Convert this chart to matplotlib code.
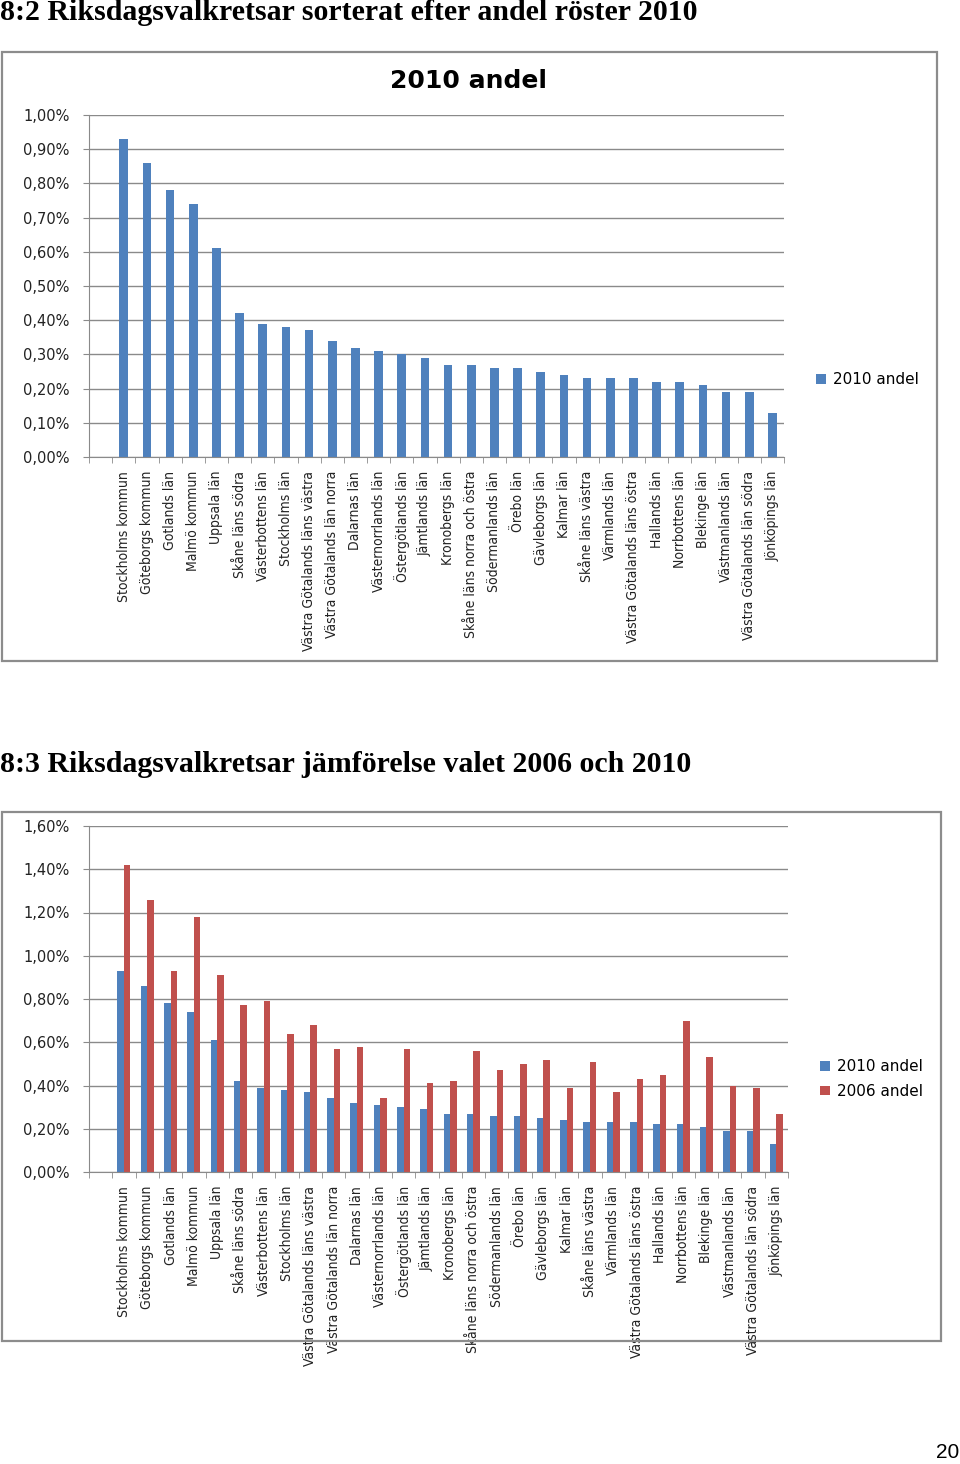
import matplotlib
matplotlib.use("Agg")
from matplotlib import pyplot as plt
from matplotlib import font_manager
from matplotlib.font_manager import FontProperties
from matplotlib.textpath import TextPath
from matplotlib.patches import Rectangle
import numpy as np

# valkretsar, sorted by 2010 share
kretsar = [
    "Stockholms kommun", "Göteborgs kommun", "Gotlands län", "Malmö kommun",
    "Uppsala län", "Skåne läns södra", "Västerbottens län", "Stockholms län",
    "Västra Götalands läns västra", "Västra Götalands län norra", "Dalarnas län",
    "Västernorrlands län", "Östergötlands län", "Jämtlands län", "Kronobergs län",
    "Skåne läns norra och östra", "Södermanlands län", "Örebo län",
    "Gävleborgs län", "Kalmar län", "Skåne läns västra", "Värmlands län",
    "Västra Götalands läns östra", "Hallands län", "Norrbottens län",
    "Blekinge län", "Västmanlands län", "Västra Götalands län södra",
    "Jönköpings län",
]
andel_2010 = [0.93, 0.86, 0.78, 0.74, 0.61, 0.42, 0.39, 0.38, 0.37, 0.34, 0.32,
              0.31, 0.30, 0.29, 0.27, 0.27, 0.26, 0.26, 0.25, 0.24, 0.23, 0.23,
              0.23, 0.22, 0.22, 0.21, 0.19, 0.19, 0.13]
andel_2006 = [1.42, 1.26, 0.93, 1.18, 0.91, 0.77, 0.79, 0.64, 0.68, 0.57, 0.58,
              0.34, 0.57, 0.41, 0.42, 0.56, 0.47, 0.50, 0.52, 0.39, 0.51, 0.37,
              0.43, 0.45, 0.70, 0.53, 0.40, 0.39, 0.27]

BLUE = "#4F81BD"
RED = "#C0504D"
GRID = "#8a8a8a"


def narrow_font():
    # look for a condensed sans for the Calibri-like category labels
    prefs = ["Liberation Sans Narrow", "DejaVu Sans", "Noto Sans", "Open Sans", "Roboto"]
    found = [f for f in font_manager.fontManager.ttflist
             if f.stretch in ("condensed", "semi-condensed", "extra-condensed")
             and f.style == "normal" and f.weight in (400, "normal", "regular")]
    for p in prefs:
        for f in found:
            if f.name == p:
                return FontProperties(fname=f.fname)
    return FontProperties(family="Liberation Sans")


label_fp = narrow_font()
# size so that "Stockholms kommun" is ~129 px long, as in the reference
w_em = TextPath((0, 0), "Stockholms kommun", size=1, prop=label_fp).get_extents().width
label_fp.set_size(min(13, 129 * 72 / (100 * w_em)))

W, H = 960, 1464
fig = plt.figure(figsize=(W / 100, H / 100), dpi=100)


def fx(x):
    return x / W


def fy(y):
    return 1 - y / H


def frame(x0, y0, x1, y1):
    fig.add_artist(Rectangle((fx(x0), fy(y1)), (x1 - x0) / W, (y1 - y0) / H,
                             transform=fig.transFigure, fill=False,
                             edgecolor="#8c8c8c", lw=1.6))


def pct(v):
    return f"{v:.2f}%".replace(".", ",")


def style_axes(ax, ymax, step):
    n = len(kretsar)
    ax.set_xlim(-1.5, n - 0.5)
    ax.set_ylim(0, ymax)
    yt = np.arange(0, ymax + step / 2, step)
    ax.set_yticks(yt)
    ax.set_yticklabels([pct(v) for v in yt], fontsize=10.5, color="#222222")
    ax.yaxis.grid(True, color=GRID, lw=1)
    ax.set_axisbelow(True)
    ax.set_xticks(range(n))
    ax.set_xticklabels(kretsar, rotation=90, fontproperties=label_fp,
                       color="#222222")
    ax.set_xticks(np.arange(-1.5, n), minor=True)
    ax.tick_params(axis="x", which="major", length=0, pad=10)
    ax.tick_params(axis="x", which="minor", length=4, color=GRID, direction="out")
    ax.tick_params(axis="y", length=4, color=GRID, pad=10)
    for s in ["top", "right"]:
        ax.spines[s].set_visible(False)
    for s in ["left", "bottom"]:
        ax.spines[s].set_color(GRID)


x = np.arange(len(kretsar))

# 8:2
fig.text(0, fy(13), "8:2 Riksdagsvalkretsar sorterat efter andel röster 2010",
         fontsize=21.5, fontweight="bold", family="Liberation Serif", va="center")
frame(2, 52, 937, 661)
fig.text(fx(469), fy(81), "2010 andel", fontsize=18, fontweight="bold",
         ha="center", va="center")
ax1 = fig.add_axes([fx(89), fy(457), (784 - 89) / W, (457 - 115) / H])
ax1.bar(x, andel_2010, width=0.38, color=BLUE, label="2010 andel")
style_axes(ax1, 1.0, 0.1)
ax1.legend(loc="center left", bbox_to_anchor=(fx(802), fy(380)),
           bbox_transform=fig.transFigure, frameon=False, fontsize=11,
           handlelength=0.7, handleheight=0.6, handletextpad=0.4)

# 8:3
fig.text(0, fy(764), "8:3 Riksdagsvalkretsar jämförelse valet 2006 och 2010",
         fontsize=21.5, fontweight="bold", family="Liberation Serif", va="center")
frame(2, 812, 941, 1341)
ax2 = fig.add_axes([fx(89), fy(1172), (788 - 89) / W, (1172 - 826) / H])
ax2.bar(x - 0.14, andel_2010, width=0.28, color=BLUE, label="2010 andel")
ax2.bar(x + 0.14, andel_2006, width=0.28, color=RED, label="2006 andel")
style_axes(ax2, 1.6, 0.2)
ax2.legend(loc="center left", bbox_to_anchor=(fx(806), fy(1079)),
           bbox_transform=fig.transFigure, frameon=False, fontsize=11,
           handlelength=0.7, handleheight=0.6, handletextpad=0.4,
           labelspacing=0.65)

fig.text(fx(948), fy(1452), "20", fontsize=15, ha="center", va="center",
         family="Liberation Sans")

fig.savefig("out.png", dpi=100)
